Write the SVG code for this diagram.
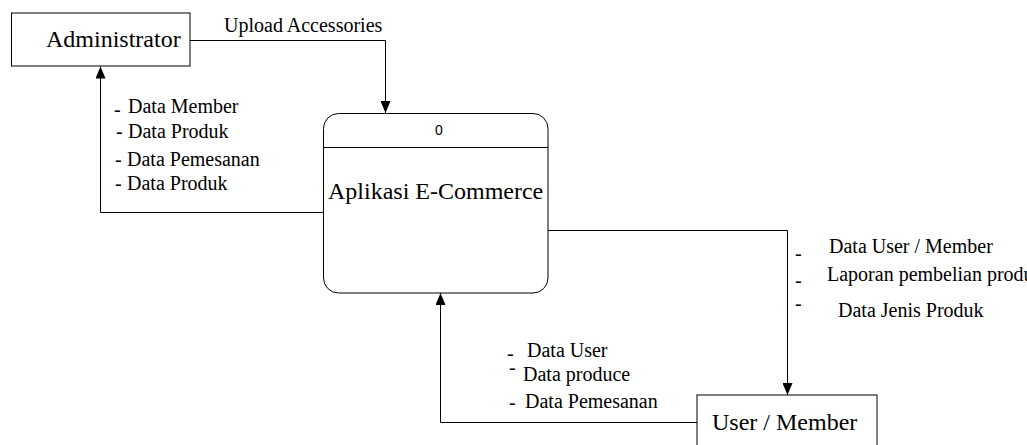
<svg xmlns="http://www.w3.org/2000/svg" width="1027" height="445" viewBox="0 0 1027 445">
  <style>
    .box { fill: #ffffff; stroke: #000000; stroke-width: 1; }
    .flow { fill: none; stroke: #000000; stroke-width: 1; }
    .serif { font-family: "Liberation Serif", "Times New Roman", serif; }
    .big { font-size: 24px; fill: #000000; }
    .lbl { font-size: 20px; fill: #000000; }
    .num { font-family: "Liberation Sans", Arial, sans-serif; font-size: 14px; fill: #000000; }
  </style>
  <defs>
    <marker id="arrow" viewBox="0 0 12 10" refX="12" refY="5" markerWidth="12" markerHeight="10" markerUnits="userSpaceOnUse" orient="auto">
      <path d="M0,0 L12,5 L0,10 Z" fill="#000000"/>
    </marker>
  </defs>

  <!-- data flows with their labels -->
  <g id="connectors" class="serif">
    <path class="flow" d="M190,40.5 H385.5 V113" marker-end="url(#arrow)"/>
    <path class="flow" d="M323.5,212.5 H100.5 V66.5" marker-end="url(#arrow)"/>
    <path class="flow" d="M548,230.5 H787.5 V395" marker-end="url(#arrow)"/>
    <path class="flow" d="M697,422.5 H440.5 V293" marker-end="url(#arrow)"/>

    <text class="lbl" x="224" y="32">Upload Accessories</text>

    <!-- Administrator <- process -->
    <text class="lbl"><tspan x="114" y="116">-</tspan><tspan x="128" y="113">Data Member</tspan></text>
    <text class="lbl"><tspan x="116" y="138">-</tspan><tspan x="128" y="138">Data Produk</tspan></text>
    <text class="lbl"><tspan x="115" y="166">-</tspan><tspan x="127" y="166">Data Pemesanan</tspan></text>
    <text class="lbl"><tspan x="115" y="190">-</tspan><tspan x="127" y="190">Data Produk</tspan></text>

    <!-- process -> User / Member -->
    <text class="lbl"><tspan x="795" y="260">-</tspan><tspan x="829" y="253">Data User / Member</tspan></text>
    <text class="lbl"><tspan x="795" y="287">-</tspan><tspan x="827" y="281">Laporan pembelian produk</tspan></text>
    <text class="lbl"><tspan x="795" y="310">-</tspan><tspan x="838" y="317">Data Jenis Produk</tspan></text>

    <!-- User / Member -> process -->
    <text class="lbl"><tspan x="507" y="360">-</tspan><tspan x="527" y="357">Data User</tspan></text>
    <text class="lbl"><tspan x="509" y="374">-</tspan><tspan x="523" y="381">Data produce</tspan></text>
    <text class="lbl"><tspan x="509" y="409">-</tspan><tspan x="525" y="408">Data Pemesanan</tspan></text>
  </g>

  <!-- external entity: Administrator -->
  <g id="administrator" class="serif">
    <rect class="box" x="11.5" y="13" width="178.5" height="53"/>
    <text class="big" x="46" y="47">Administrator</text>
  </g>

  <!-- process 0 -->
  <g id="process-0" class="serif">
    <rect class="box" x="323.5" y="113.5" width="224.5" height="179.5" rx="15" ry="15"/>
    <line class="flow" x1="323.5" y1="147.5" x2="548" y2="147.5"/>
    <text class="num" x="439" y="135" text-anchor="middle">0</text>
    <text class="big" x="328" y="199">Aplikasi E-Commerce</text>
  </g>

  <!-- external entity: User / Member -->
  <g id="user-member" class="serif">
    <rect class="box" x="697" y="395" width="180" height="60"/>
    <text class="big" x="712" y="430">User / Member</text>
  </g>
</svg>
